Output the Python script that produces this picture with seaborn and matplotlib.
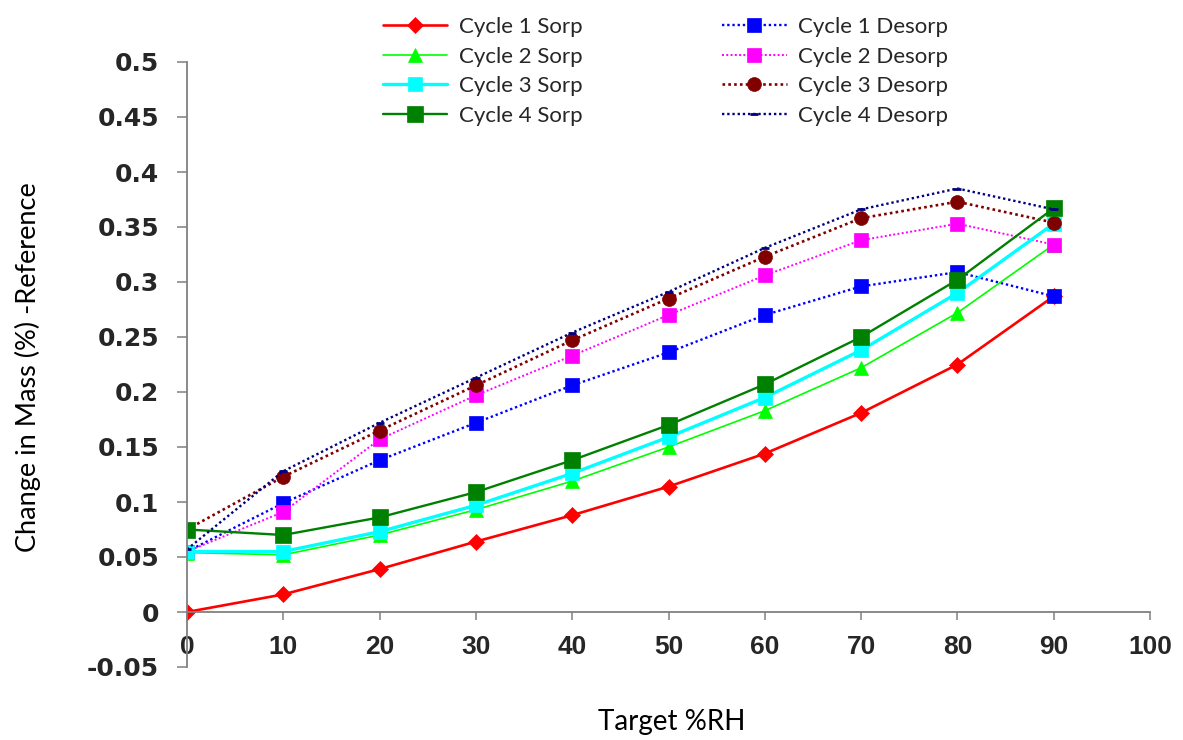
import matplotlib
matplotlib.use("Agg")
import matplotlib.pyplot as plt
import seaborn as sns
import numpy as np
from matplotlib.ticker import FuncFormatter, MultipleLocator

# ---- data ----
rh = [0, 10, 20, 30, 40, 50, 60, 70, 80, 90]
c1_sorp = [0.000, 0.016, 0.039, 0.064, 0.088, 0.114, 0.144, 0.181, 0.225, 0.287]
c2_sorp = [0.054, 0.052, 0.070, 0.093, 0.119, 0.150, 0.183, 0.222, 0.272, 0.334]
c3_sorp = [0.055, 0.055, 0.073, 0.097, 0.126, 0.159, 0.195, 0.238, 0.290, 0.353]
c4_sorp = [0.075, 0.070, 0.086, 0.109, 0.138, 0.170, 0.207, 0.250, 0.302, 0.367]
c1_desorp = [0.055, 0.099, 0.138, 0.172, 0.206, 0.236, 0.270, 0.296, 0.309, 0.287]
c2_desorp = [0.055, 0.091, 0.157, 0.197, 0.233, 0.270, 0.306, 0.338, 0.353, 0.334]
c3_desorp = [0.075, 0.123, 0.165, 0.206, 0.247, 0.285, 0.323, 0.358, 0.373, 0.354]
c4_desorp = [0.057, 0.128, 0.172, 0.213, 0.254, 0.291, 0.331, 0.366, 0.385, 0.366]
labels = ["Cycle 1 Sorp", "Cycle 1 Desorp", "Cycle 2 Sorp", "Cycle 2 Desorp",
          "Cycle 3 Sorp", "Cycle 3 Desorp", "Cycle 4 Sorp", "Cycle 4 Desorp"]
series = [c1_sorp, c1_desorp, c2_sorp, c2_desorp, c3_sorp, c3_desorp, c4_sorp, c4_desorp]

styles = [
    dict(color="#FF0000", marker="D", ms=8.5, lw=1.9, ls="-"),
    dict(color="#0000FF", marker="s", ms=9.5, lw=1.7, ls=(0, (1, 1.2))),
    dict(color="#00FF00", marker="^", ms=10.5, lw=1.2, ls="-"),
    dict(color="#FF00FF", marker="s", ms=9.5, lw=1.4, ls=(0, (1, 1.2))),
    dict(color="#00FFFF", marker="s", ms=10.5, lw=2.4, ls="-"),
    dict(color="#800000", marker="o", ms=10, lw=1.9, ls=(0, (1, 1.2))),
    dict(color="#008000", marker="s", ms=11, lw=1.7, ls="-"),
    dict(color="#000080", marker="_", ms=6, lw=1.7, ls=(0, (1, 1.2))),
]

sns.set_style("white")
plt.rcParams["font.family"] = ["DejaVu Sans"]

fig = plt.figure(figsize=(11.83, 7.40), dpi=100)
ax = fig.add_axes([187 / 1183, 1 - 667 / 740, (1150 - 187) / 1183, (667 - 62) / 740])

for lab, vals, st in zip(labels, series, styles):
    sns.lineplot(x=rh, y=vals, ax=ax, color=st["color"], marker=st["marker"],
                 markersize=st["ms"], linewidth=st["lw"], linestyle=st["ls"],
                 markeredgecolor=st["color"], markerfacecolor=st["color"],
                 markeredgewidth=2 if st["marker"] == "_" else 0.5,
                 label=lab, legend=False)

ax.set_xlim(0, 100)
ax.set_ylim(-0.05, 0.5)
ax.xaxis.set_major_locator(MultipleLocator(10))
ax.yaxis.set_major_locator(MultipleLocator(0.05))
ax.yaxis.set_major_formatter(FuncFormatter(lambda v, p: f"{round(v, 3):g}"))

for s in ["top", "right"]:
    ax.spines[s].set_visible(False)
ax.spines["bottom"].set_position(("data", 0))
for s in ["left", "bottom"]:
    ax.spines[s].set_color("#808080")
    ax.spines[s].set_linewidth(1.3)

ax.tick_params(axis="y", direction="out", length=7, width=1.1, color="#808080",
               pad=13, left=True)
ax.tick_params(axis="x", direction="out", length=5.5, width=1.1, color="#808080",
               pad=11, bottom=True)
for t in ax.get_yticklabels():
    t.set_fontfamily("DejaVu Sans")
    t.set_fontweight("bold")
    t.set_fontsize(18)
for t in ax.get_xticklabels():
    t.set_fontfamily("Liberation Sans")
    t.set_fontweight("bold")
    t.set_fontsize(19)

ax.set_xlabel("")
ax.set_ylabel("")
fig.text(28 / 1183, 1 - 367 / 740, "Change in Mass (%) -Reference", rotation=90,
         ha="center", va="center", fontsize=19.5, family="Lato", color="#000000")
fig.text(672 / 1183, 1 - 722 / 740, "Target %RH", ha="center", va="center",
         fontsize=20, family="Lato", color="#000000")

handles, labs = ax.get_legend_handles_labels()
order = [0, 2, 4, 6, 1, 3, 5, 7]
leg = fig.legend([handles[i] for i in order], [labs[i] for i in order],
                 loc="upper left", bbox_to_anchor=(383 / 1183, 1 - 17 / 740),
                 ncol=2, frameon=False, borderpad=0, borderaxespad=0,
                 handlelength=2.9, handletextpad=0.5, columnspacing=6.3,
                 labelspacing=0.43, prop={"family": "Lato", "size": 16})

fig.savefig("out.png", dpi=100, facecolor="white")
